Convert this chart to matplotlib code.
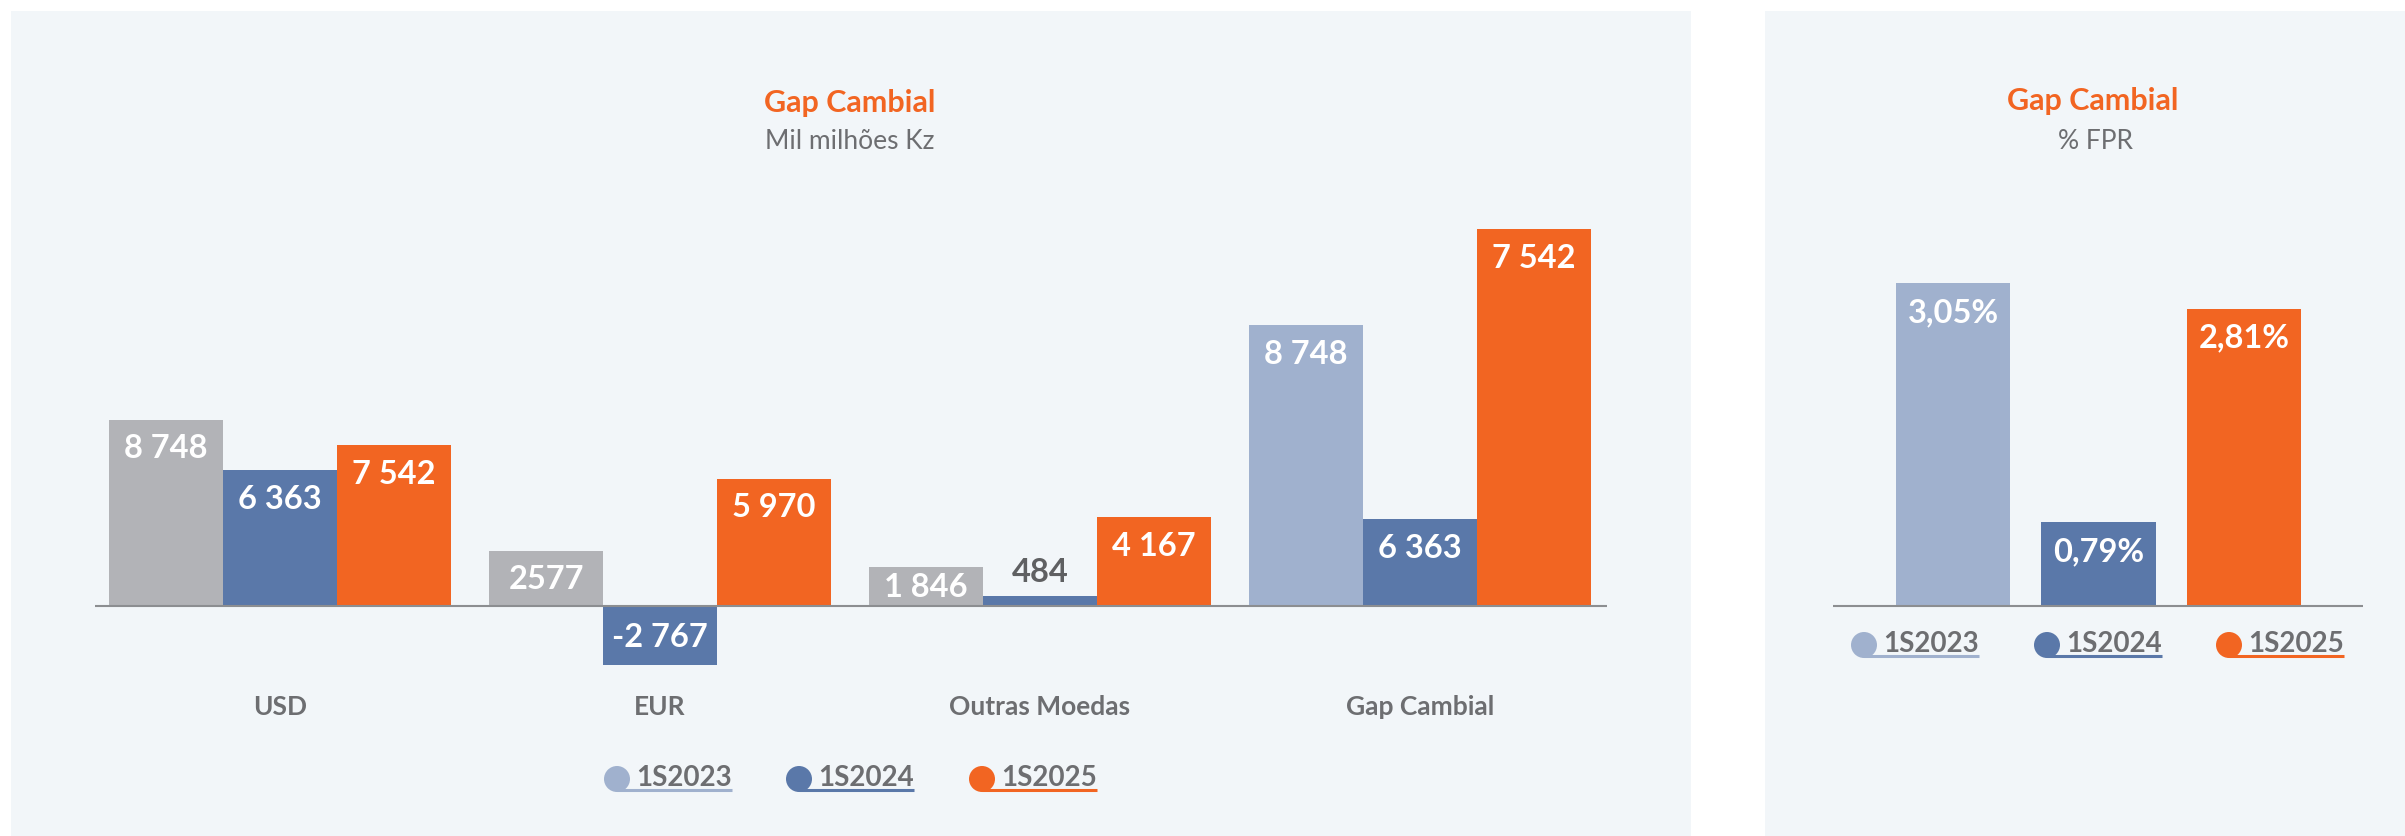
import matplotlib
matplotlib.use("Agg")
import matplotlib.pyplot as plt
from matplotlib.patches import Rectangle, Circle
from matplotlib.transforms import blended_transform_factory
import numpy as np

plt.rcParams['font.family'] = ['Lato', 'DejaVu Sans']

# ---------------- data ----------------
categories = ["USD", "EUR", "Outras Moedas", "Gap Cambial"]
periods = ["1S2023", "1S2024", "1S2025"]
v2023 = [8748, 2577, 1846, 13171]
v2024 = [6363, -2767, 484, 4080]
v2025 = [7542, 5970, 4167, 17679]
lab2023 = ["8 748", "2577", "1 846", "8 748"]
lab2024 = ["6 363", "-2 767", "484", "6 363"]
lab2025 = ["7 542", "5 970", "4 167", "7 542"]

fpr_values = [3.05, 0.79, 2.81]
fpr_labels = ["3,05%", "0,79%", "2,81%"]

# ---------------- style ----------------
W, H = 2405, 837
GRAY = "#B2B3B7"
LIGHTBLUE = "#A0B1CE"
BLUE = "#5A78A9"
ORANGE = "#F26522"
TXT = "#6D6E71"
DARKTXT = "#5F6062"
PANEL = "#F2F6F9"
AXLINE = "#8C8E91"

fig = plt.figure(figsize=(W / 100, H / 100), dpi=100)
fig.patch.set_facecolor("white")

# overlay axes in pixel coordinates (background panels, titles, legends)
ov = fig.add_axes([0, 0, 1, 1], zorder=-1)
ov.set_xlim(0, W)
ov.set_ylim(H, 0)
ov.axis("off")
ov.add_patch(Rectangle((11, 12), 1691 - 11, H - 12, color=PANEL, lw=0))
ov.add_patch(Rectangle((1765, 12), W - 1765, H - 12, color=PANEL, lw=0))

# titles
ov.text(850, 103, "Gap Cambial", color=ORANGE, fontsize=22, fontweight="bold",
        ha="center", va="center")
ov.text(850, 141, "Mil milhões Kz", color=TXT, fontsize=19,
        ha="center", va="center")
ov.text(2093, 101, "Gap Cambial", color=ORANGE, fontsize=22, fontweight="bold",
        ha="center", va="center")
ov.text(2096, 141, "% FPR", color=TXT, fontsize=19,
        ha="center", va="center")


def px(y):
    return 1 - y / H


# ---------------- left chart ----------------
axL = fig.add_axes([95 / W, px(700), (1607 - 95) / W, 550 / H])
axL.set_facecolor("none")
ylo, yhi = -4366, 21456
axL.set_xlim(-0.487, 3.492)
axL.set_ylim(ylo, yhi)
axL.axis("off")
ppu_L = 550 / (yhi - ylo)

xc = np.arange(len(categories))
bw = 0.3
col2023 = [GRAY, GRAY, GRAY, LIGHTBLUE]
series = [(v2023, lab2023, col2023, -bw),
          (v2024, lab2024, [BLUE] * 4, 0.0),
          (v2025, lab2025, [ORANGE] * 4, bw)]


def label_bars(ax, xs, vals, labs, ppu):
    for x, v, t in zip(xs, vals, labs):
        hpx = abs(v) * ppu
        sgn = 1 if v >= 0 else -1
        if hpx < 30:
            ax.annotate(t, (x, v), xytext=(0, sgn * 24), textcoords="offset pixels",
                        ha="center", va="center", color=DARKTXT, fontsize=23.5,
                        fontweight="bold")
        else:
            off = min(28, hpx / 2)
            ax.annotate(t, (x, v), xytext=(0, -sgn * off), textcoords="offset pixels",
                        ha="center", va="center", color="white", fontsize=23.5,
                        fontweight="bold")


for vals, labs, cols, dx in series:
    axL.bar(xc + dx, vals, width=bw, color=cols, linewidth=0, zorder=2)
    label_bars(axL, xc + dx, vals, labs, ppu_L)
axL.axhline(0, color=AXLINE, lw=1.5, zorder=3)

trL = blended_transform_factory(axL.transData, fig.transFigure)
for x, c in zip(xc, categories):
    axL.text(x, px(707), c, transform=trL, ha="center", va="center",
             color=TXT, fontsize=19, fontweight="bold")

# ---------------- right chart ----------------
axR = fig.add_axes([1833 / W, px(700), 530 / W, 550 / H])
axR.set_facecolor("none")
rlo, rhi = -0.879, 4.32
axR.set_xlim(-0.825, 2.818)
axR.set_ylim(rlo, rhi)
axR.axis("off")
ppu_R = 550 / (rhi - rlo)
xr = np.arange(len(fpr_values))
axR.bar(xr, fpr_values, width=0.784, color=[LIGHTBLUE, BLUE, ORANGE], linewidth=0, zorder=2)
label_bars(axR, xr, fpr_values, fpr_labels, ppu_R)
axR.axhline(0, color=AXLINE, lw=1.5, zorder=3)

# ---------------- legends ----------------
renderer = fig.canvas.get_renderer()
leg_colors = [LIGHTBLUE, BLUE, ORANGE]


def draw_legend(mx, y):
    for x, lab, c in zip(mx, periods, leg_colors):
        t = ov.text(x + 19, y - 2, lab, color=TXT, fontsize=20, fontweight="bold",
                    ha="left", va="center", zorder=3)
        bb = t.get_window_extent(renderer=renderer)
        x_end = bb.x1
        ov.plot([x, x_end], [y + 11, y + 11], color=c, lw=2.2, solid_capstyle="butt", zorder=2)
        ov.add_patch(Circle((x, y), 13, color=c, lw=0, zorder=4))


draw_legend([617, 799, 982], 780)
draw_legend([1864, 2047, 2229], 646)

fig.savefig("out.png", dpi=100, facecolor="white")
